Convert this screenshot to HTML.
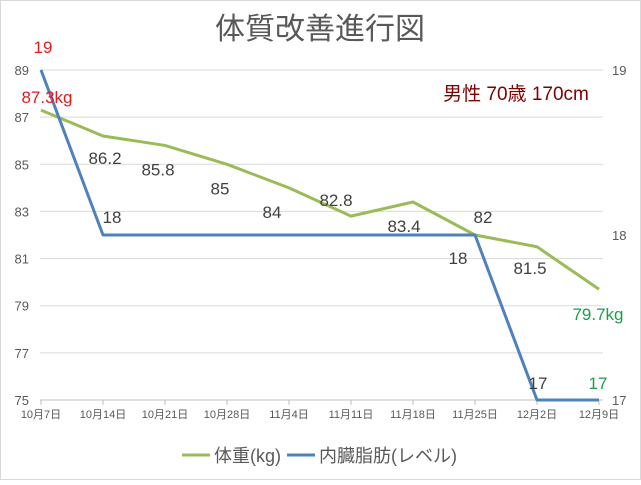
<!DOCTYPE html>
<html><head><meta charset="utf-8"><style>
body{margin:0;background:#fff}
svg text{font-family:"Liberation Sans","Noto Sans CJK JP",sans-serif}
</style></head><body>
<svg id="c" width="641" height="480" viewBox="0 0 641 480" xmlns="http://www.w3.org/2000/svg">
<rect x="0.5" y="0.5" width="640" height="479" fill="#fff" stroke="#d9d9d9"/>
<text x="320" y="39" text-anchor="middle" font-size="30" fill="#595959">体質改善進行図</text>
<text x="516" y="100" text-anchor="middle" font-size="19" fill="#7f0000">男性 70歳 170cm</text>
<g id="grid"></g><g id="axes"></g><g id="series"></g><g id="labels"></g>
<g>
<line x1="182" y1="455" x2="210" y2="455" stroke="#9bbb59" stroke-width="3"/>
<text x="214" y="462" font-size="18" fill="#595959">体重(kg)</text>
<line x1="287" y1="455" x2="315" y2="455" stroke="#4f81bd" stroke-width="3"/>
<text x="319" y="462" font-size="18" fill="#595959">内臓脂肪(レベル)</text>
</g>
</svg>
<script>
const categories=["10月7日","10月14日","10月21日","10月28日","11月4日","11月11日","11月18日","11月25日","12月2日","12月9日"];
const weight=[87.3,86.2,85.8,85,84,82.8,83.4,82,81.5,79.7];
const fat=[19,18,18,18,18,18,18,18,17,17];
const leftTicks=[75,77,79,81,83,85,87,89];
const rightTicks=[17,18,19];
const NS="http://www.w3.org/2000/svg";
const X0=41,STEP=62,Y0=400,Y1=70,L0=40,L1=603;
const xs=i=>X0+i*STEP;
const yl=v=>Y0-(v-75)/(89-75)*(Y0-Y1);
const yr=v=>Y0-(v-17)/(19-17)*(Y0-Y1);
function mk(p,t,a){const e=document.createElementNS(NS,t);for(const k in a)e.setAttribute(k,a[k]);document.getElementById(p).appendChild(e);return e;}
leftTicks.forEach(v=>{
 const g=mk('grid','line',{x1:L0,x2:L1,y1:yl(v),y2:yl(v),stroke:v===75?'#bfbfbf':'#d9d9d9'});
 
 
 const t=mk('axes','text',{x:29,y:yl(v)+5,'text-anchor':'end','font-size':13,fill:'#595959'});t.textContent=v;
 
 
});
rightTicks.forEach(v=>{
 const t=mk('axes','text',{x:612,y:yr(v)+5,'font-size':13,fill:'#595959'});t.textContent=v;
 
 
});
categories.forEach((c,i)=>{
 const tk=mk('axes','line',{x1:xs(i),x2:xs(i),y1:Y0,y2:Y0+5,stroke:'#bfbfbf'});
 
 
 const t=mk('axes','text',{x:xs(i),y:418,'text-anchor':'middle','font-size':11,fill:'#595959'});t.textContent=c;
 
 
});
const wl=mk('series','polyline',{points:weight.map((v,i)=>xs(i)+','+yl(v)).join(' '),fill:'none',stroke:'#9bbb59','stroke-width':3,'stroke-linejoin':'round'});


const fl=mk('series','polyline',{points:fat.map((v,i)=>xs(i)+','+yr(v)).join(' '),fill:'none',stroke:'#4f81bd','stroke-width':3,'stroke-linejoin':'round'});


const wOff=[[6,-7],[2,28],[-7,30],[-7,30],[-17,30],[-15,-10],[-9,30],[8,-12],[-7,27],[-1,31]];
weight.forEach((v,i)=>{
 const first=i===0,last=i===weight.length-1;
 const t=mk('labels','text',{x:xs(i)+wOff[i][0],y:yl(v)+wOff[i][1],'text-anchor':'middle','font-size':17,fill:first?'#e31a1c':last?'#1aa04a':'#404040'});
 t.textContent=v+((first||last)?'kg':'');
 
 
});
const fOff=[[2,-17],[9,-12],null,null,null,null,null,[-17,29],[1,-11],[-1,-11]];
fat.forEach((v,i)=>{
 if(!fOff[i])return;
 const t=mk('labels','text',{x:xs(i)+fOff[i][0],y:yr(v)+fOff[i][1],'text-anchor':'middle','font-size':17,fill:i===0?'#e31a1c':i===fat.length-1?'#1aa04a':'#404040'});
 t.textContent=v;
 
 
});
</script>
</body></html>
